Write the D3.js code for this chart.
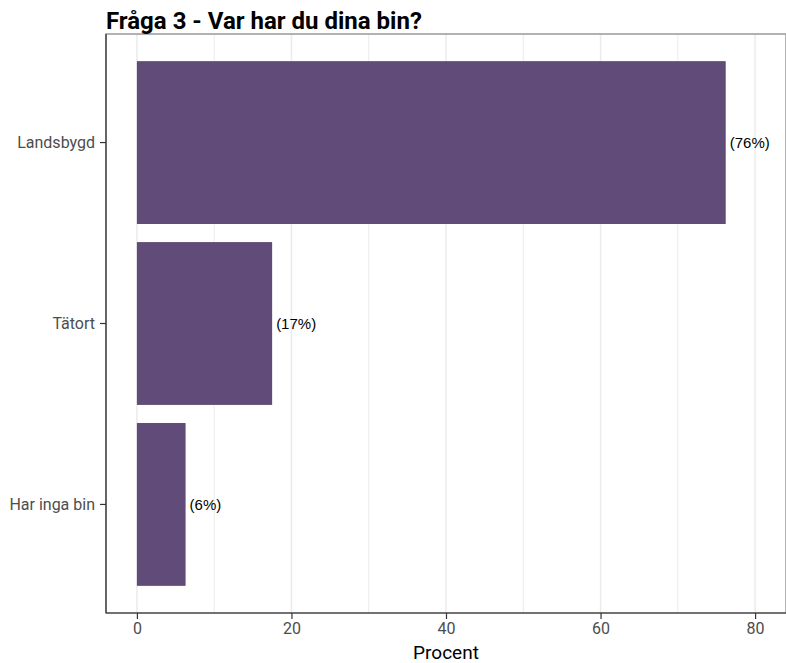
<!DOCTYPE html>
<html>
<head>
<meta charset="utf-8">
<script src="https://cdn.jsdelivr.net/npm/d3@7"></script>
<style>
  body { margin: 0; background: #fff; }
  svg { display: block; }
</style>
</head>
<body>
<div id="chart"></div>
<script>
// chart data
var categories = ["Landsbygd", "Tätort", "Har inga bin"];
var percents = [76.2, 17.5, 6.3];
var barLabels = ["(76%)", "(17%)", "(6%)"];
var xTicks = [0, 20, 40, 60, 80];
var xMinorTicks = [10, 30, 50, 70];

var svgWidth = 786;
var svgHeight = 663;

var margin = { top: 34, right: 0, bottom: 50, left: 106 };
var width = svgWidth - margin.left - margin.right;
var height = svgHeight - margin.top - margin.bottom;

var svg = d3
  .select("#chart")
  .append("svg")
  .attr("width", svgWidth)
  .attr("height", svgHeight);

var chartGroup = svg
  .append("g")
  .attr("transform", `translate(${margin.left}, ${margin.top})`);

// scales
var xScale = d3.scaleLinear().domain([-4, 84]).range([0, width]);
var yScale = d3
  .scaleBand()
  .domain(categories)
  .range([0, height])
  .paddingInner(0.1)
  .paddingOuter(0.15);

// grid lines
chartGroup
  .selectAll(".minor")
  .data(xMinorTicks)
  .enter()
  .append("line")
  .attr("x1", (d) => xScale(d))
  .attr("x2", (d) => xScale(d))
  .attr("y1", 0)
  .attr("y2", height)
  .attr("stroke", "#ebebeb")
  .attr("stroke-width", 1);

chartGroup
  .selectAll(".major")
  .data(xTicks)
  .enter()
  .append("line")
  .attr("x1", (d) => xScale(d))
  .attr("x2", (d) => xScale(d))
  .attr("y1", 0)
  .attr("y2", height)
  .attr("stroke", "#ebebeb")
  .attr("stroke-width", 1.5);

// panel border (top / right)
chartGroup
  .append("rect")
  .attr("x", 0)
  .attr("y", 0)
  .attr("width", width)
  .attr("height", height)
  .attr("fill", "none")
  .attr("stroke", "#999")
  .attr("stroke-width", 1.5);

// bars
chartGroup
  .selectAll(".bar")
  .data(categories)
  .enter()
  .append("rect")
  .attr("x", xScale(0))
  .attr("y", (d) => yScale(d))
  .attr("width", (d, i) => xScale(percents[i]) - xScale(0))
  .attr("height", yScale.bandwidth())
  .attr("fill", "#614b79");

// bar labels
chartGroup
  .selectAll(".barLabel")
  .data(categories)
  .enter()
  .append("text")
  .attr("x", (d, i) => xScale(percents[i]) + 4)
  .attr("y", (d) => yScale(d) + yScale.bandwidth() / 2)
  .attr("dy", "0.35em")
  .style("font-family", "'Liberation Sans', Arial, sans-serif")
  .style("font-size", "15px")
  .style("fill", "#000")
  .text((d, i) => barLabels[i]);

// axes
var bottomAxis = d3.axisBottom(xScale).tickValues(xTicks).tickSize(6).tickPadding(4);
var leftAxis = d3.axisLeft(yScale).tickSize(6).tickPadding(5);

var xAxis = chartGroup
  .append("g")
  .attr("transform", `translate(0, ${height})`)
  .call(bottomAxis);

var yAxis = chartGroup.append("g").call(leftAxis);

[xAxis, yAxis].forEach(function (ax) {
  ax.select(".domain").attr("stroke", "#333").attr("stroke-width", 1.2);
  ax.selectAll(".tick line").attr("stroke", "#333").attr("stroke-width", 1.2);
  ax.selectAll(".tick text")
    .style("font-family", "Roboto, 'Noto Sans', sans-serif")
    .style("fill", "#4d4d4d");
});
xAxis.select(".domain").attr("d", `M0,0H${width}`);
yAxis.select(".domain").attr("d", `M0,0V${height}`);
xAxis.selectAll(".tick text").style("font-size", "16px");
yAxis.selectAll(".tick text").style("font-size", "16px");

// axis title
svg
  .append("text")
  .attr("x", margin.left + xScale(40))
  .attr("y", 659)
  .attr("text-anchor", "middle")
  .style("font-family", "Roboto, 'Noto Sans', sans-serif")
  .style("font-size", "19px")
  .style("fill", "#000")
  .text("Procent");

// title
svg
  .append("text")
  .attr("x", margin.left)
  .attr("y", 29)
  .style("font-family", "Roboto, 'Noto Sans', sans-serif")
  .style("font-weight", "bold")
  .style("font-size", "24px")
  .style("fill", "#000")
  .text("Fråga 3 - Var har du dina bin?");
</script>
</body>
</html>
